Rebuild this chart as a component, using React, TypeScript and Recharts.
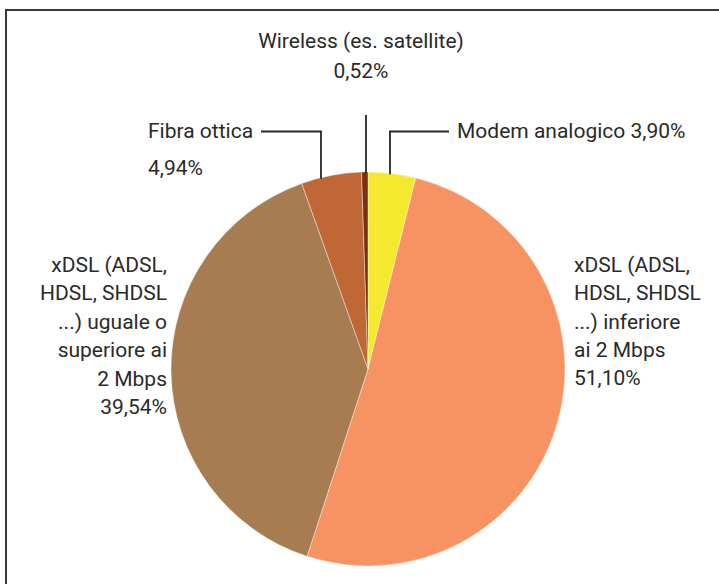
import React from "react";
import { PieChart, Pie, Cell } from "recharts";

const categories: string[][] = [
  ["Modem analogico"],
  ["xDSL (ADSL,", "HDSL, SHDSL", "...) inferiore", "ai 2 Mbps"],
  ["xDSL (ADSL,", "HDSL, SHDSL", "...) uguale o", "superiore ai", "2 Mbps"],
  ["Fibra ottica"],
  ["Wireless (es. satellite)"],
];
const values: number[] = [3.9, 51.1, 39.54, 4.94, 0.52];
const colors: string[] = ["#F4E92F", "#F79363", "#A87C51", "#BF6836", "#7A2E12"];

const fmt = (v: number) => v.toFixed(2).replace(".", ",") + "%";

const data = categories.map((c, i) => ({ name: c.join(" "), value: values[i] }));

// label layout relative to pie centre
type Layout = {
  dx: number;
  dy: number;
  step: number;
  anchor: "start" | "middle" | "end";
  inline?: boolean;
  leader?: { x: number; elbowY: number; endX?: number };
};
const layouts: Layout[] = [
  { dx: 89, dy: -231, step: 0, anchor: "start", inline: true, leader: { x: 22, elbowY: -237.5, endX: 81 } },
  { dx: 206, dy: -97, step: 28.3, anchor: "start" },
  { dx: -201, dy: -97, step: 28.4, anchor: "end" },
  { dx: -220, dy: -231, step: 37, anchor: "start", leader: { x: -47, elbowY: -237.5, endX: -107 } },
  { dx: -7, dy: -321, step: 30, anchor: "middle", leader: { x: -2, elbowY: -254 } },
];

const renderLabel = (props: any) => {
  const { cx, cy, outerRadius, index } = props;
  const lay = layouts[index];
  const lines = lay.inline
    ? [categories[index].join(" ") + " " + fmt(values[index])]
    : [...categories[index], fmt(values[index])];
  let leader: React.ReactNode = null;
  if (lay.leader) {
    const lx = cx + lay.leader.x;
    const edgeY = cy - Math.sqrt(outerRadius * outerRadius - lay.leader.x * lay.leader.x);
    const ey = cy + lay.leader.elbowY;
    let d = `M${lx},${edgeY + 1} L${lx},${ey}`;
    if (lay.leader.endX !== undefined) d += ` L${cx + lay.leader.endX},${ey}`;
    leader = <path d={d} stroke="#262626" strokeWidth={1.8} fill="none" />;
  }
  return (
    <g key={`lab-${index}`}>
      {leader}
      <text
        x={cx + lay.dx}
        y={cy + lay.dy}
        textAnchor={lay.anchor}
        fill="#2a2a2a"
        fontFamily="Roboto"
        fontSize={21}
      >
        {lines.map((l, i) => (
          <tspan key={i} x={cx + lay.dx} y={cy + lay.dy + i * lay.step}>
            {l}
          </tspan>
        ))}
      </text>
    </g>
  );
};

export default function App() {
  return (
    <div style={{ position: "fixed", left: 0, top: 0, width: 719, height: 584, background: "#fff" }}>
      <div
        style={{
          position: "absolute",
          left: 5,
          top: 9,
          width: 714,
          height: 575,
          borderTop: "2px solid #3a3a3a",
          borderLeft: "2px solid #3a3a3a",
          boxSizing: "border-box",
        }}
      />
      <div style={{ position: "absolute", left: 0, top: 0 }}>
        <PieChart width={719} height={584} margin={{ top: 0, right: 0, bottom: 0, left: 0 }}>
          <Pie
            data={data}
            dataKey="value"
            nameKey="name"
            cx={368}
            cy={369}
            outerRadius={197}
            startAngle={90}
            endAngle={-270}
            stroke="#ffffff"
            strokeWidth={0.4}
            label={renderLabel}
            labelLine={false}
            isAnimationActive={false}
          >
            {data.map((_, i) => (
              <Cell key={i} fill={colors[i]} />
            ))}
          </Pie>
        </PieChart>
      </div>
    </div>
  );
}
